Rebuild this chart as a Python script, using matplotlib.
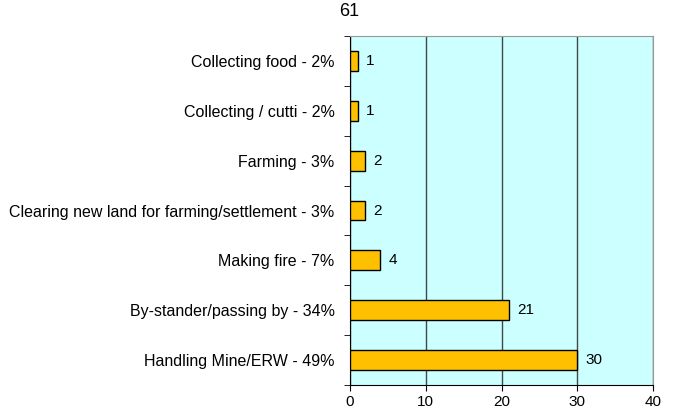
import matplotlib.pyplot as plt
import numpy as np

plt.rcParams["font.family"] = ["Liberation Sans", "DejaVu Sans"]

# ── data ───────────────────────────────────────────────────────────────────────
categories = [
    "Handling Mine/ERW - 49%",
    "By-stander/passing by - 34%",
    "Making fire - 7%",
    "Clearing new land for farming/settlement - 3%",
    "Farming - 3%",
    "Collecting / cutti - 2%",
    "Collecting food - 2%",
]
values = [30, 21, 4, 2, 2, 1, 1]
x_ticks = [0, 10, 20, 30, 40]
title = "61"

# ── figure ─────────────────────────────────────────────────────────────────────
fig = plt.figure(figsize=(6.73, 4.12), dpi=100)
ax = fig.add_axes([350 / 673, 1 - 385 / 412, 303 / 673, 349 / 412])
ax.set_facecolor("#ccffff")

ys = np.arange(len(categories))
ax.barh(ys, values, height=0.4, color="#ffc000", edgecolor="black",
        linewidth=1, zorder=3)
for y, v in zip(ys, values):
    ax.text(v + 1.1, y, str(v), va="center", ha="left", fontsize=11)

ax.set_xlim(0, 40)
ax.set_ylim(-0.5, len(categories) - 0.5)
ax.set_xticks(x_ticks)
ax.tick_params(axis="x", labelsize=11, length=4, direction="out", pad=3)

ax.set_yticks(ys)
ax.set_yticklabels(categories, fontsize=11.5)
ax.tick_params(axis="y", which="major", length=0, pad=11)
ax.set_yticks(np.arange(-0.5, len(categories)), minor=True)
ax.tick_params(axis="y", which="minor", length=4, direction="out")

ax.xaxis.grid(True, color="#404848", linewidth=1)
ax.set_axisbelow(True)
for s in ["top", "right"]:
    ax.spines[s].set_color("#999999")
for s in ["left", "bottom"]:
    ax.spines[s].set_color("black")

fig.text(349 / 673, 1 - 12 / 412, title, ha="center", va="center", fontsize=13)

fig.savefig("out.png", dpi=100)
